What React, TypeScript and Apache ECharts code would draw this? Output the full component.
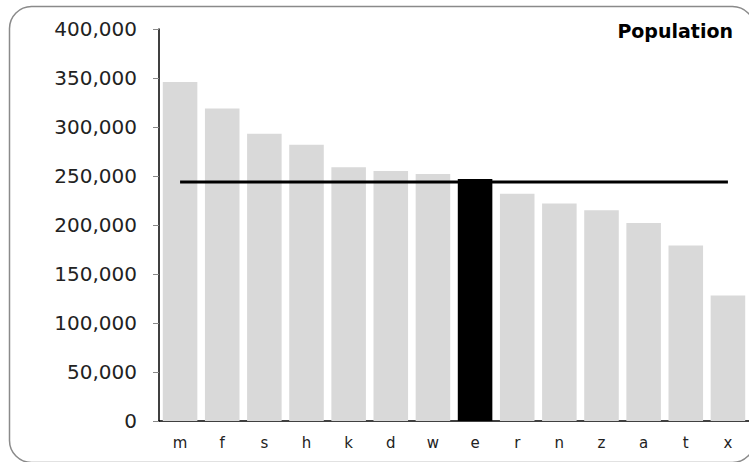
import React, { useEffect, useRef } from "react";
import * as echarts from "echarts";

const categories = ["m", "f", "s", "h", "k", "d", "w", "e", "r", "n", "z", "a", "t", "x"];
const population = [346000, 319000, 293000, 282000, 259000, 255000, 252000, 247000, 232000, 222000, 215000, 202000, 179000, 128000];
const highlight = "e";
const averageValue = 244000;
const yTicks = { min: 0, max: 400000, interval: 50000 };

export default function App() {
  const ref = useRef<HTMLDivElement>(null);
  useEffect(() => {
    if (!ref.current) return;
    const chart = echarts.init(ref.current, null, { renderer: "svg" });
    const font = "DejaVu Sans, Verdana, sans-serif";
    chart.setOption({
      animation: false,
      graphic: [
        {
          type: "rect",
          left: 7,
          top: 4,
          shape: { width: 745, height: 456, r: 22 },
          style: { fill: "none", stroke: "#8a8a8a", lineWidth: 1.5 },
          z: 0,
        },
        {
          type: "text",
          right: 16,
          top: 21,
          style: { text: "Population", font: `bold 19px ${font}`, fill: "#000" },
        },
      ],
      grid: { left: 159, right: -2, top: 29, bottom: 41, containLabel: false },
      xAxis: {
        type: "category",
        data: categories,
        axisLine: { lineStyle: { color: "#000", width: 1.5 } },
        axisTick: { show: false },
        axisLabel: { color: "#222", fontFamily: font, fontSize: 15, margin: 14 },
      },
      yAxis: {
        type: "value",
        min: yTicks.min,
        max: yTicks.max,
        interval: yTicks.interval,
        axisLine: { show: true, lineStyle: { color: "#000", width: 1.5 } },
        axisTick: { show: true, length: 6, lineStyle: { color: "#888" } },
        splitLine: { show: false },
        axisLabel: {
          color: "#222",
          fontFamily: font,
          fontSize: 20,
          margin: 22,
          formatter: (v: number) => v.toLocaleString("en-US"),
        },
      },
      series: [
        {
          type: "bar",
          data: population.map((v, i) => ({
            value: v,
            itemStyle: { color: categories[i] === highlight ? "#000" : "#d9d9d9" },
          })),
          barCategoryGap: "18%",
          z: 2,
        },
        {
          type: "line",
          data: categories.map(() => averageValue),
          showSymbol: false,
          symbol: "none",
          lineStyle: { color: "#000", width: 3 },
          z: 3,
        },
      ],
    });
    return () => chart.dispose();
  }, []);
  return <div ref={ref} style={{ width: 749, height: 462, position: "absolute", left: 0, top: 0 }} />;
}
